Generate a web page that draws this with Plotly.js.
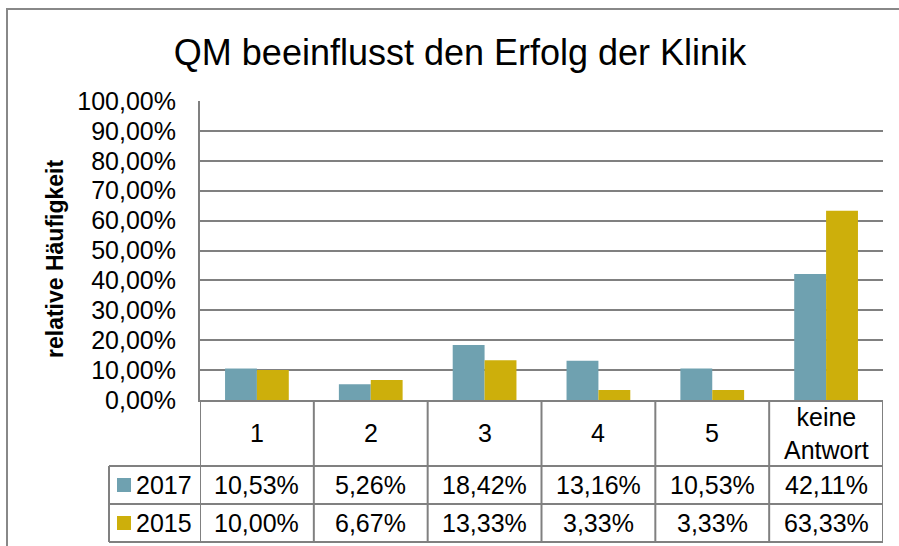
<!DOCTYPE html>
<html>
<head>
<meta charset="utf-8">
<script src="https://cdn.plot.ly/plotly-3.0.1.min.js"></script>
<style>html,body{margin:0;padding:0;background:#fff;}#chart{width:899px;height:546px;}</style>
</head>
<body>
<div id="chart"></div>
<script>
// ---- data ----
const categories = ['1', '2', '3', '4', '5', 'keine<br>Antwort'];
const series2017 = [0.1053, 0.0526, 0.1842, 0.1316, 0.1053, 0.4211];
const series2015 = [0.1000, 0.0667, 0.1333, 0.0333, 0.0333, 0.6333];
const seriesNames = ['2017', '2015'];
const yTickVals = [0, 0.1, 0.2, 0.3, 0.4, 0.5, 0.6, 0.7, 0.8, 0.9, 1.0];

// ---- layout geometry (pixels) ----
const W = 899, H = 546;
const L = 200, R = 883, T = 101, B = 400;
const px = x => (x - L) / (R - L);
const py = y => (B - y) / (B - T);

const col2017 = '#6FA1B0';
const col2015 = '#CDAF0B';
const gridCol = '#808080';
const FONT = 'Liberation Sans, Arial, sans-serif';

const fmt = v => (v * 100).toFixed(2).replace('.', ',') + '%';

const xIdx = categories.map((c, i) => i);

const traces = [
  {type: 'bar', name: seriesNames[0], x: xIdx, y: series2017, marker: {color: col2017}, hoverinfo: 'y'},
  {type: 'bar', name: seriesNames[1], x: xIdx, y: series2015, marker: {color: col2015}, hoverinfo: 'y'}
];

const shapes = [];
const annotations = [];
const lineStyle = {color: gridCol, width: 2};

// outer chart frame
shapes.push({type: 'rect', xref: 'paper', yref: 'paper', x0: px(7), x1: px(910), y0: py(9), y1: py(560),
  line: {color: '#888888', width: 2}, layer: 'below'});

// table horizontal lines
[466, 504, 542].forEach(yy => {
  shapes.push({type: 'line', xref: 'paper', yref: 'paper', x0: px(109), x1: px(R), y0: py(yy), y1: py(yy), line: lineStyle});
});
// table vertical lines (column boundaries through the x scale)
for (let i = 0; i <= categories.length; i++) {
  shapes.push({type: 'line', xref: 'x', yref: 'paper', x0: i - 0.5, x1: i - 0.5, y0: py(B), y1: py(542), line: lineStyle});
}
// legend column left border
shapes.push({type: 'line', xref: 'paper', yref: 'paper', x0: px(109), x1: px(109), y0: py(466), y1: py(542), line: lineStyle});

const tFont = {family: FONT, size: 25, color: '#000'};
// category row
categories.forEach((c, i) => {
  annotations.push({xref: 'x', yref: 'paper', x: i, y: py(433), text: c, showarrow: false,
    font: tFont, xanchor: 'center', yanchor: 'middle'});
});
// data rows
const rows = [{name: seriesNames[0], vals: series2017, col: col2017, yc: 485},
              {name: seriesNames[1], vals: series2015, col: col2015, yc: 523}];
rows.forEach(r => {
  r.vals.forEach((v, i) => {
    annotations.push({xref: 'x', yref: 'paper', x: i, y: py(r.yc), text: fmt(v), showarrow: false,
      font: tFont, xanchor: 'center', yanchor: 'middle'});
  });
  shapes.push({type: 'rect', xref: 'paper', yref: 'paper', x0: px(117), x1: px(131), y0: py(r.yc - 7), y1: py(r.yc + 7),
    fillcolor: r.col, line: {width: 0}});
  annotations.push({xref: 'paper', yref: 'paper', x: px(134), y: py(r.yc), text: r.name, showarrow: false,
    font: tFont, xanchor: 'left', yanchor: 'middle'});
});

// y-axis title
annotations.push({xref: 'paper', yref: 'paper', x: px(55), y: py(259), text: '<b>relative Häufigkeit</b>',
  showarrow: false, textangle: -90, font: {family: FONT, size: 23, color: '#000'}, xanchor: 'center', yanchor: 'middle'});

const layout = {
  width: W, height: H,
  margin: {l: L, r: W - R, t: T, b: H - B, pad: 0},
  paper_bgcolor: '#fff', plot_bgcolor: '#fff',
  separators: ',.',
  showlegend: false,
  barmode: 'group', bargap: 0.44, bargroupgap: 0,
  title: {text: 'QM beeinflusst den Erfolg der Klinik', x: 460 / W, xanchor: 'center', y: 1 - 52 / H, yanchor: 'middle',
    font: {family: FONT, size: 36, color: '#000'}},
  xaxis: {type: 'linear', range: [-0.5, categories.length - 0.5], showticklabels: false, showgrid: false,
    zeroline: false, showline: true, linecolor: gridCol, linewidth: 2, ticks: '', fixedrange: true},
  yaxis: {range: [0, 1], tickvals: yTickVals, tickformat: '.2%', showgrid: true, gridcolor: gridCol, gridwidth: 2,
    zeroline: false, showline: true, linecolor: gridCol, linewidth: 2, ticks: '', ticklabelstandoff: 17,
    tickfont: {family: FONT, size: 25, color: '#000'}, fixedrange: true},
  shapes: shapes,
  annotations: annotations
};

Plotly.newPlot('chart', traces, layout, {displayModeBar: false, staticPlot: true});
</script>
</body>
</html>
